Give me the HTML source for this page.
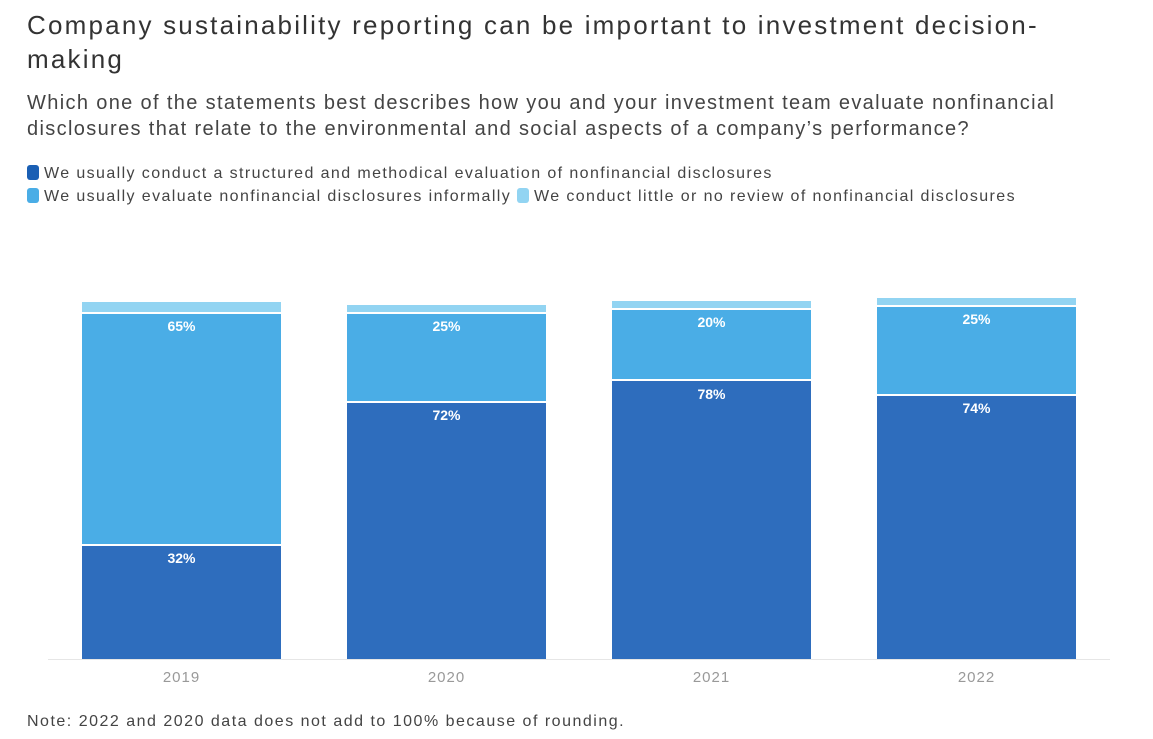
<!DOCTYPE html>
<html><head><style>
body{margin:0;width:1153px;height:739px;background:#fff;font-family:"Liberation Sans",sans-serif;position:relative;overflow:hidden}
.t{position:absolute;left:27px;color:#333;white-space:nowrap}
.seg{position:absolute;}
.lbl{position:absolute;width:199px;text-align:center;color:#fff;font-weight:bold;font-size:14px}
.yr{position:absolute;top:669px;width:199px;text-align:center;color:#999;font-size:15px;letter-spacing:1px}
.sw{display:inline-block;width:12px;height:15px;border-radius:3px;vertical-align:-2px;margin-right:5px}
</style></head><body>
<div class="t" style="top:8px;font-size:26px;line-height:34px;letter-spacing:2.2px;color:#333">Company sustainability reporting can be important to investment decision-<br>making</div>
<div class="t" style="top:90px;font-size:20px;line-height:26px;letter-spacing:1.35px;color:#444">Which one of the statements best describes how you and your investment team evaluate nonfinancial<br>disclosures that relate to the environmental and social aspects of a company’s performance?</div>
<div class="t" style="top:162px;font-size:16px;line-height:23px;letter-spacing:1.4px;color:#444"><span class="sw" style="background:#1a5fb4"></span>We usually conduct a structured and methodical evaluation of nonfinancial disclosures<br><span class="sw" style="background:#4aade6"></span>We usually evaluate nonfinancial disclosures informally <span class="sw" style="background:#92d4f2"></span>We conduct little or no review of nonfinancial disclosures</div>

<div style="position:absolute;left:48px;top:659px;width:1062px;height:1px;background:#e6e6e6"></div>

<div class="seg" style="left:82px;width:199px;top:302px;height:10px;background:#92d4f2"></div>
<div class="seg" style="left:82px;width:199px;top:314px;height:230px;background:#4aade6"></div>
<div class="seg" style="left:82px;width:199px;top:546px;height:113px;background:#2e6dbd"></div>
<div class="lbl" style="left:82px;top:318px">65%</div>
<div class="lbl" style="left:82px;top:550px">32%</div>

<div class="seg" style="left:347px;width:199px;top:305px;height:7px;background:#92d4f2"></div>
<div class="seg" style="left:347px;width:199px;top:314px;height:87px;background:#4aade6"></div>
<div class="seg" style="left:347px;width:199px;top:403px;height:256px;background:#2e6dbd"></div>
<div class="lbl" style="left:347px;top:318px">25%</div>
<div class="lbl" style="left:347px;top:407px">72%</div>

<div class="seg" style="left:612px;width:199px;top:301px;height:7px;background:#92d4f2"></div>
<div class="seg" style="left:612px;width:199px;top:310px;height:69px;background:#4aade6"></div>
<div class="seg" style="left:612px;width:199px;top:381px;height:278px;background:#2e6dbd"></div>
<div class="lbl" style="left:612px;top:314px">20%</div>
<div class="lbl" style="left:612px;top:386px">78%</div>

<div class="seg" style="left:877px;width:199px;top:298px;height:7px;background:#92d4f2"></div>
<div class="seg" style="left:877px;width:199px;top:307px;height:87px;background:#4aade6"></div>
<div class="seg" style="left:877px;width:199px;top:396px;height:263px;background:#2e6dbd"></div>
<div class="lbl" style="left:877px;top:311px">25%</div>
<div class="lbl" style="left:877px;top:400px">74%</div>

<div class="yr" style="left:82px">2019</div>
<div class="yr" style="left:347px">2020</div>
<div class="yr" style="left:612px">2021</div>
<div class="yr" style="left:877px">2022</div>

<div class="t" style="top:713px;font-size:16px;letter-spacing:1.5px;color:#444">Note: 2022 and 2020 data does not add to 100% because of rounding.</div>
</body></html>
